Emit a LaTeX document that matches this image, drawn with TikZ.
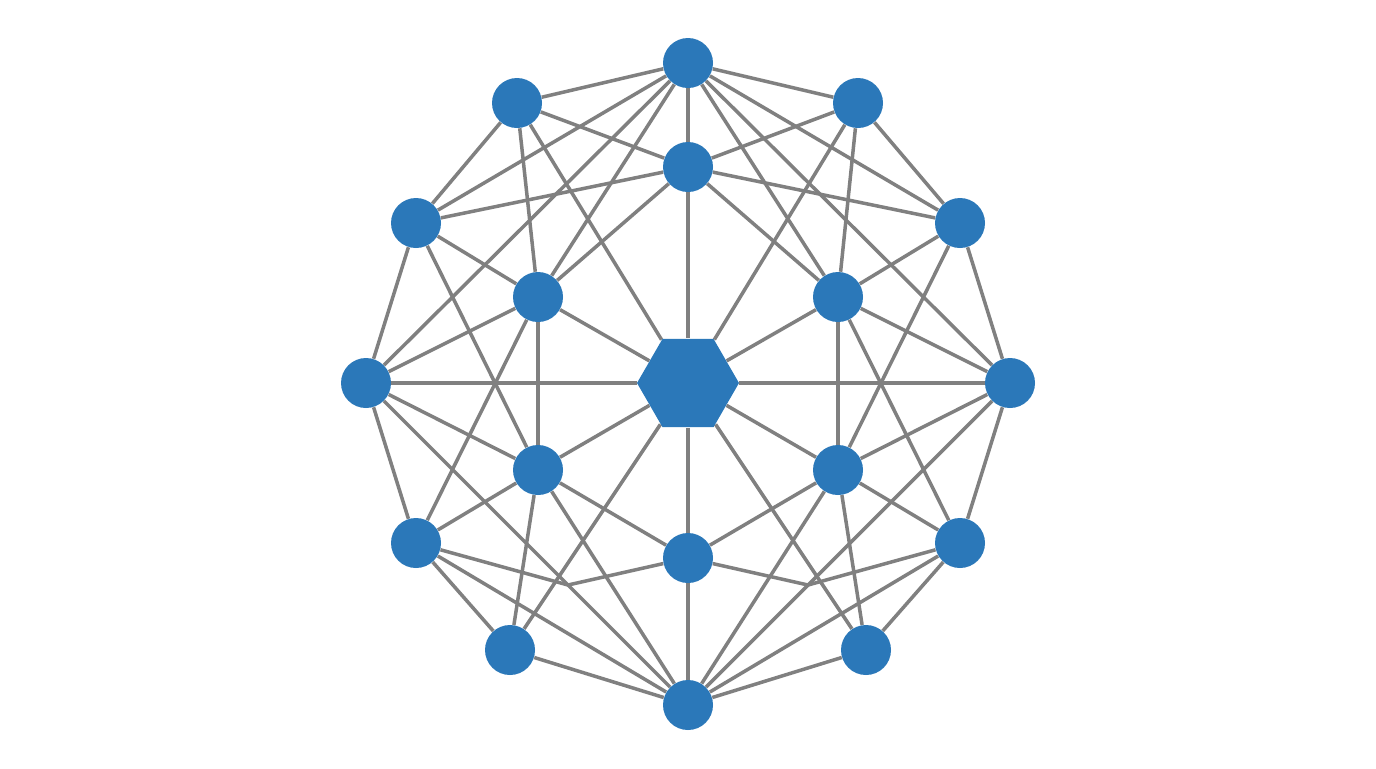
\documentclass[tikz,border=0pt]{standalone}
\usetikzlibrary{shapes.geometric}
\pgfdeclarelayer{bg}
\pgfsetlayers{bg,main}
\definecolor{nodeblue}{RGB}{43,120,185}
\definecolor{edgegray}{RGB}{128,128,128}
\tikzset{
  dot/.style={circle,fill=nodeblue,draw=none,minimum size=25pt,inner sep=0pt},
  hub/.style={regular polygon,regular polygon sides=6,fill=nodeblue,draw=none,minimum size=51pt,inner sep=0pt},
  link/.style={draw=edgegray,line width=1.75pt,line join=round}
}
\begin{document}
\begin{tikzpicture}[x=0.5pt,y=-0.5pt]
\useasboundingbox (0,0) rectangle (1376,768);
% outer ring
\node[dot] (T) at (688,63) {};
\node[dot] (a) at (517,103) {};
\node[dot] (b) at (858,103) {};
\node[dot] (c) at (416,223) {};
\node[dot] (d) at (960,223) {};
\node[dot] (L) at (366,383) {};
\node[dot] (R) at (1010,383) {};
\node[dot] (L4) at (416,543) {};
\node[dot] (R4) at (960,543) {};
\node[dot] (BL) at (510,650) {};
\node[dot] (BR) at (866,650) {};
\node[dot] (B) at (688,705) {};
% inner ring
\node[dot] (IT) at (688,167) {};
\node[dot] (IUL) at (538,297) {};
\node[dot] (IUR) at (838,297) {};
\node[dot] (ILL) at (538,470) {};
\node[dot] (ILR) at (838,470) {};
\node[dot] (IB) at (688,558) {};
\node[hub] (C) at (688,383) {};
\coordinate (v1) at (568,585);
\coordinate (v2) at (808,585);
\begin{pgfonlayer}{bg}
\fill[white] (0,0) rectangle (1376,768);
\foreach \p/\q in {T/a,T/c,T/L,T/IUL,a/c,a/IT,a/IUL,a/C,c/L,c/IT,c/IUL,c/ILL,
  L/IUL,L/C,IUL/C,IUL/ILL,IUL/L4,IUL/IT,B/BL,B/L4,B/L,B/ILL,BL/L4,BL/ILL,BL/C,
  L4/L,L4/ILL,L/ILL,ILL/C,ILL/IB,
  T/b,T/d,T/R,T/IUR,b/d,b/IT,b/IUR,b/C,d/R,d/IT,d/IUR,d/ILR,
  R/IUR,R/C,IUR/C,IUR/ILR,IUR/R4,IUR/IT,B/BR,B/R4,B/R,B/ILR,BR/R4,BR/ILR,BR/C,
  R4/R,R4/ILR,R/ILR,ILR/C,ILR/IB,
  T/IT,IT/C,B/IB,IB/C}
  \draw[link] (\p) -- (\q);
\draw[link] (L4) -- (v1) -- (IB);
\draw[link] (R4) -- (v2) -- (IB);
\end{pgfonlayer}
\end{tikzpicture}
\end{document}
